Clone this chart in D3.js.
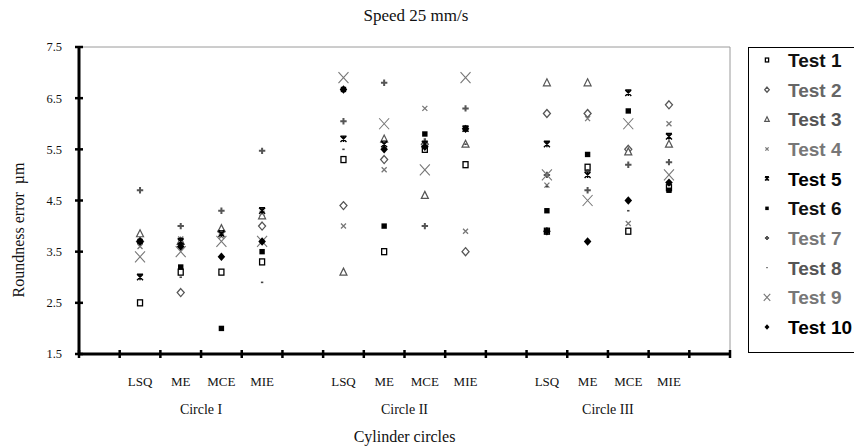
<!DOCTYPE html>
<html>
<head>
<meta charset="utf-8">
<script src="https://cdn.jsdelivr.net/npm/d3@7"></script>
<style>
  body { margin: 0; background: #fff; }
  svg { display: block; }
</style>
</head>
<body>
<div id="chart"></div>
<script>
// Categories and tick labels
const circles = ['Circle I', 'Circle II', 'Circle III'];
const methods = ['LSQ', 'ME', 'MCE', 'MIE'];
const yTicks = [1.5, 2.5, 3.5, 4.5, 5.5, 6.5, 7.5];
const testNames = ['Test 1', 'Test 2', 'Test 3', 'Test 4', 'Test 5',
  'Test 6', 'Test 7', 'Test 8', 'Test 9', 'Test 10'];

// Roundness error per test, order: Circle I (LSQ ME MCE MIE), Circle II, Circle III
const test1  = [2.5, 3.1, 3.1, 3.3,   5.3, 3.5, 5.5, 5.2,   3.9, 5.15, 3.9, 4.75];
const test2  = [3.7, 2.7, 3.9, 4.0,   4.4, 5.3, 5.6, 3.5,   6.2, 6.2, 5.5, 6.37];
const test3  = [3.85, 3.7, 3.95, 4.2, 3.1, 5.7, 4.6, 5.6,   6.8, 6.8, 5.45, 5.6];
const test4  = [3.6, 3.75, 3.8, 4.25, 4.0, 5.1, 6.3, 3.9,   4.8, 6.1, 4.05, 6.0];
const test5  = [3.0, 3.7, 3.85, 4.3,  5.7, 5.6, 5.6, 5.9,   5.6, 5.0, 6.6, 5.75];
const test6  = [3.7, 3.2, 2.0, 3.5,   6.67, 4.0, 5.8, 5.9,  4.3, 5.4, 6.25, 4.7];
const test7  = [4.7, 4.0, 4.3, 5.47,  6.05, 6.8, 4.0, 6.3,  5.0, 4.7, 5.2, 5.25];
const test8  = [3.7, 3.0, 3.9, 2.9,   5.5, 5.65, 5.7, 5.6,  4.77, 5.1, 4.3, 4.8];
const test9  = [3.4, 3.5, 3.7, 3.7,   6.9, 6.0, 5.1, 6.9,   5.0, 4.5, 6.0, 5.0];
const test10 = [3.7, 3.6, 3.4, 3.7,   6.67, 5.5, 5.55, 5.9, 3.9, 3.7, 4.5, 4.85];

const seriesValues = [test1, test2, test3, test4, test5, test6, test7, test8, test9, test10];

// marker style per test
const markerStyle = [
  { shape: 'square',   color: '#000', text: '#111' },
  { shape: 'diamond',  color: '#555', text: '#666' },
  { shape: 'triangle', color: '#555', text: '#555' },
  { shape: 'x',        color: '#777', text: '#777' },
  { shape: 'star',     color: '#000', text: '#000' },
  { shape: 'fsquare',  color: '#000', text: '#111' },
  { shape: 'plus',     color: '#555', text: '#777' },
  { shape: 'dot',      color: '#444', text: '#555' },
  { shape: 'bigx',     color: '#777', text: '#777' },
  { shape: 'fdiamond', color: '#000', text: '#000' }
];

const width = 854, height = 448;
const plot = { left: 79, right: 730, top: 47, bottom: 354 };
const serif = '"Liberation Serif", "Times New Roman", serif';

const svg = d3.select('#chart').append('svg')
  .attr('width', width)
  .attr('height', height);

// 16 slots: gap, 4 methods, gap, 4 methods, gap, 4 methods, gap
const slots = ['gap0'];
circles.forEach((c, ci) => {
  methods.forEach(m => slots.push(`${ci}|${m}`));
  slots.push(`gap${ci + 1}`);
});

const x = d3.scaleBand().domain(slots).range([plot.left, plot.right]);
const y = d3.scaleLinear().domain([1.5, 7.5]).range([plot.bottom, plot.top]);
const cx = key => x(key) + x.bandwidth() / 2;

const pointKeys = [];
circles.forEach((c, ci) => methods.forEach(m => pointKeys.push(`${ci}|${m}`)));

// plot area border (top and right, light grey)
svg.append('path')
  .attr('d', `M${plot.left},${plot.top}H${plot.right}V${plot.bottom}`)
  .attr('fill', 'none')
  .attr('stroke', '#9a9a9a')
  .attr('stroke-width', 1);

// marker drawing
function drawMarker(g, shape, color, s) {
  switch (shape) {
    case 'square':
      g.append('rect').attr('x', -2.5 * s).attr('y', -3 * s)
        .attr('width', 5 * s).attr('height', 6 * s)
        .attr('fill', '#fff').attr('stroke', color).attr('stroke-width', 1.3);
      break;
    case 'diamond':
      g.append('path').attr('d', `M0,${-4 * s}L${3.5 * s},0L0,${4 * s}L${-3.5 * s},0Z`)
        .attr('fill', '#fff').attr('stroke', color).attr('stroke-width', 1.3);
      break;
    case 'triangle':
      g.append('path').attr('d', `M0,${-4 * s}L${3.5 * s},${3 * s}L${-3.5 * s},${3 * s}Z`)
        .attr('fill', '#fff').attr('stroke', color).attr('stroke-width', 1.2);
      break;
    case 'x':
      g.append('path').attr('d', `M${-2.5 * s},${-2.5 * s}L${2.5 * s},${2.5 * s}M${2.5 * s},${-2.5 * s}L${-2.5 * s},${2.5 * s}`)
        .attr('stroke', color).attr('stroke-width', 1.3);
      break;
    case 'star':
      g.append('path').attr('d', `M${-3 * s},${-3 * s}L${3 * s},${3 * s}M${3 * s},${-3 * s}L${-3 * s},${3 * s}M0,${-3 * s}V${3 * s}M${-3 * s},${-3 * s}H${3 * s}`)
        .attr('stroke', color).attr('stroke-width', 1.4);
      break;
    case 'fsquare':
      g.append('rect').attr('x', -2.7 * s).attr('y', -2.7 * s)
        .attr('width', 5.4 * s).attr('height', 5.4 * s).attr('fill', color);
      break;
    case 'plus':
      g.append('path').attr('d', `M${-3.2 * s},0H${3.2 * s}M0,${-3.2 * s}V${3.2 * s}`)
        .attr('stroke', color).attr('stroke-width', 2);
      break;
    case 'dot':
      g.append('rect').attr('x', -1.2 * s).attr('y', -0.8 * s)
        .attr('width', 2.4 * s).attr('height', 1.6 * s).attr('fill', color);
      break;
    case 'bigx':
      g.append('path').attr('d', `M${-5 * s},${-5.5 * s}L${5 * s},${5.5 * s}M${5 * s},${-5.5 * s}L${-5 * s},${5.5 * s}`)
        .attr('stroke', color).attr('stroke-width', 1.1);
      break;
    case 'fdiamond':
      g.append('path').attr('d', `M0,${-4.2 * s}L${3.8 * s},0L0,${4.2 * s}L${-3.8 * s},0Z`)
        .attr('fill', color);
      break;
  }
}

// series points, later tests on top
seriesValues.forEach((vals, i) => {
  const st = markerStyle[i];
  const grp = svg.append('g').attr('class', `series s${i + 1}`);
  grp.selectAll('g')
    .data(vals.map((v, j) => ({ key: pointKeys[j], v })))
    .join('g')
    .attr('transform', d => `translate(${cx(d.key)},${y(d.v)})`)
    .each(function () { drawMarker(d3.select(this), st.shape, st.color, 1); });
});

// y axis
const yAxis = svg.append('g');
yAxis.append('line')
  .attr('x1', plot.left).attr('x2', plot.left)
  .attr('y1', plot.top).attr('y2', plot.bottom)
  .attr('stroke', '#000').attr('stroke-width', 3);
yAxis.selectAll('line.tick').data(yTicks).join('line')
  .attr('class', 'tick')
  .attr('x1', plot.left - 4).attr('x2', plot.left + 4)
  .attr('y1', d => y(d)).attr('y2', d => y(d))
  .attr('stroke', '#000').attr('stroke-width', 2.5);
yAxis.selectAll('text').data(yTicks).join('text')
  .attr('x', plot.left - 17).attr('y', d => y(d))
  .attr('dy', '0.35em')
  .attr('text-anchor', 'end')
  .attr('font-family', serif)
  .attr('font-size', 12.5)
  .attr('fill', '#111')
  .text(d => d3.format('.1f')(d));

// x axis with ticks between categories
const bounds = slots.map(s => x(s)).concat([plot.right]);
const xAxis = svg.append('g');
xAxis.append('line')
  .attr('x1', plot.left).attr('x2', plot.right)
  .attr('y1', plot.bottom).attr('y2', plot.bottom)
  .attr('stroke', '#000').attr('stroke-width', 3);
xAxis.selectAll('line.tick').data(bounds).join('line')
  .attr('class', 'tick')
  .attr('x1', d => d).attr('x2', d => d)
  .attr('y1', plot.bottom - 4).attr('y2', plot.bottom + 4)
  .attr('stroke', '#000').attr('stroke-width', 2.5);
xAxis.selectAll('text.cat').data(pointKeys).join('text')
  .attr('class', 'cat')
  .attr('x', d => cx(d)).attr('y', 386)
  .attr('text-anchor', 'middle')
  .attr('font-family', serif)
  .attr('font-size', 13)
  .attr('fill', '#111')
  .text(d => d.split('|')[1]);
xAxis.selectAll('text.grp').data(circles).join('text')
  .attr('class', 'grp')
  .attr('x', (d, ci) => (x(`${ci}|LSQ`) + x(`${ci}|MIE`) + x.bandwidth()) / 2)
  .attr('y', 414)
  .attr('text-anchor', 'middle')
  .attr('font-family', serif)
  .attr('font-size', 14)
  .attr('fill', '#111')
  .text(d => d);

// titles
svg.append('text')
  .attr('x', 416).attr('y', 21)
  .attr('text-anchor', 'middle')
  .attr('font-family', serif).attr('font-size', 17)
  .attr('fill', '#111')
  .text('Speed 25 mm/s');
svg.append('text')
  .attr('x', (plot.left + plot.right) / 2).attr('y', 442)
  .attr('text-anchor', 'middle')
  .attr('font-family', serif).attr('font-size', 16)
  .attr('fill', '#111')
  .text('Cylinder circles');
svg.append('text')
  .attr('transform', `translate(24,230) rotate(-90)`)
  .attr('text-anchor', 'middle')
  .attr('font-family', serif).attr('font-size', 16)
  .attr('fill', '#111')
  .attr('xml:space', 'preserve')
  .text('Roundness error  \u00b5m');

// legend
const legend = svg.append('g');
legend.append('rect')
  .attr('x', 748.5).attr('y', 47.5)
  .attr('width', 120).attr('height', 305)
  .attr('fill', '#fff').attr('stroke', '#000').attr('stroke-width', 1);
const ly = d3.scalePoint().domain(testNames).range([60, 327]);
testNames.forEach((name, i) => {
  const st = markerStyle[i];
  const row = legend.append('g').attr('transform', `translate(0,${ly(name)})`);
  drawMarker(row.append('g').attr('transform', 'translate(767,0)'), st.shape, st.color, 0.65);
  row.append('text')
    .attr('x', 788).attr('dy', '0.36em')
    .attr('font-family', '"Liberation Sans", Arial, sans-serif')
    .attr('font-weight', 'bold')
    .attr('font-size', 19)
    .attr('fill', st.text)
    .text(name);
});
</script>
</body>
</html>
